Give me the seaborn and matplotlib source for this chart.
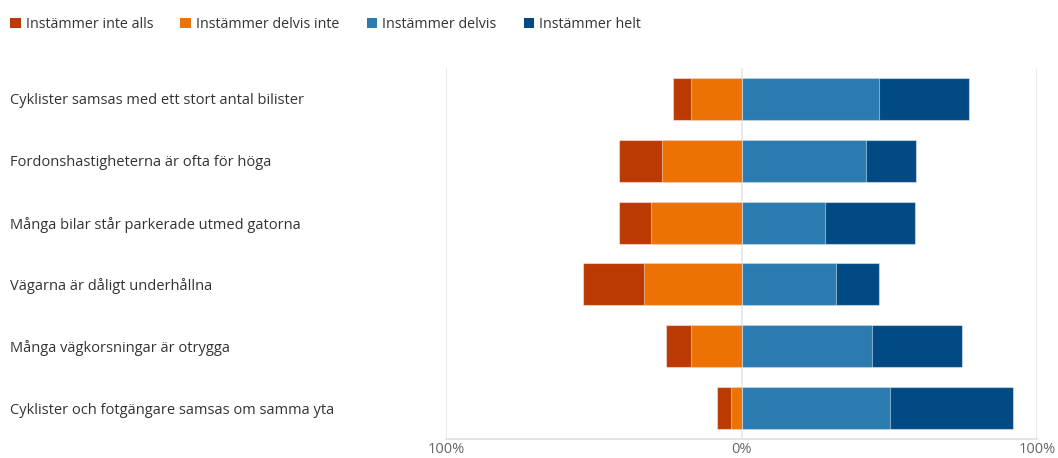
import matplotlib
matplotlib.use("Agg")
import matplotlib.pyplot as plt
import matplotlib.transforms as mtransforms
from matplotlib.patches import Patch
import seaborn as sns
import pandas as pd

categories = [
    "Cyklister samsas med ett stort antal bilister",
    "Fordonshastigheterna är ofta för höga",
    "Många bilar står parkerade utmed gatorna",
    "Vägarna är dåligt underhållna",
    "Många vägkorsningar är otrygga",
    "Cyklister och fotgängare samsas om samma yta",
]
inte_alls = [6.0, 14.4, 11.1, 20.6, 8.5, 4.7]
delvis_inte = [17.2, 27.0, 30.5, 33.0, 17.2, 3.7]
delvis = [46.6, 42.0, 28.1, 32.0, 44.3, 50.2]
helt = [30.5, 16.9, 30.7, 14.4, 30.3, 41.6]
series_names = ["Instämmer inte alls", "Instämmer delvis inte", "Instämmer delvis", "Instämmer helt"]
colors = ["#BA3A02", "#EC7206", "#2B7BB1", "#024A84"]
tick_vals = [-100, 0, 100]
tick_labels = ["100%", "0%", "100%"]

sns.set_theme(style="white")
plt.rcParams["font.family"] = ["Open Sans", "DejaVu Sans"]

df = pd.DataFrame({
    "cat": categories,
    "neg_outer": [-(a + b) for a, b in zip(inte_alls, delvis_inte)],
    "neg_inner": [-b for b in delvis_inte],
    "pos_outer": [c + d for c, d in zip(delvis, helt)],
    "pos_inner": delvis,
})

fig = plt.figure(figsize=(10.58, 4.58), dpi=100)
ax = fig.add_axes([446 / 1058, 1 - 439 / 458, (1037 - 446) / 1058, (439 - 68) / 458])

for ref in tick_vals:
    ax.axvline(ref, color="#e6e6e6", lw=1.2, zorder=0)

edge = dict(edgecolor=(1, 1, 1, 0.45), linewidth=0.8)
sns.barplot(data=df, x="neg_outer", y="cat", order=categories, color=colors[0],
            saturation=1, width=0.68, ax=ax, zorder=2, **edge)
sns.barplot(data=df, x="neg_inner", y="cat", order=categories, color=colors[1],
            saturation=1, width=0.68, ax=ax, zorder=3, **edge)
sns.barplot(data=df, x="pos_outer", y="cat", order=categories, color=colors[3],
            saturation=1, width=0.68, ax=ax, zorder=2, **edge)
sns.barplot(data=df, x="pos_inner", y="cat", order=categories, color=colors[2],
            saturation=1, width=0.68, ax=ax, zorder=3, **edge)

ax.set_xlim(-100, 100)
ax.set_ylim(len(categories) - 0.5, -0.5)
ax.set_xticks(tick_vals)
ax.set_xticklabels(tick_labels, color="#666666", fontsize=10.5)
ax.tick_params(axis="x", length=0, pad=2)
ax.set_yticks([])
ax.set_xlabel("")
ax.set_ylabel("")
for s in ["top", "left", "right"]:
    ax.spines[s].set_visible(False)
ax.spines["bottom"].set_color("#e0e0e0")
ax.spines["bottom"].set_linewidth(1.2)

trans = mtransforms.blended_transform_factory(fig.transFigure, ax.transData)
for i, c in enumerate(categories):
    fig.text(10 / 1058, i, c, transform=trans, ha="left", va="center_baseline",
             fontsize=10.5, color="#333333")

handles = [Patch(facecolor=col, edgecolor="none") for col in colors]
fig.legend(handles, series_names, loc="upper left", bbox_to_anchor=(-3 / 1058, 1 - 4 / 458),
           ncol=4, frameon=False, fontsize=10.3, handlelength=0.75, handleheight=0.75,
           handletextpad=0.35, columnspacing=1.9, labelcolor="#333333")

fig.savefig("out.png", dpi=100)
